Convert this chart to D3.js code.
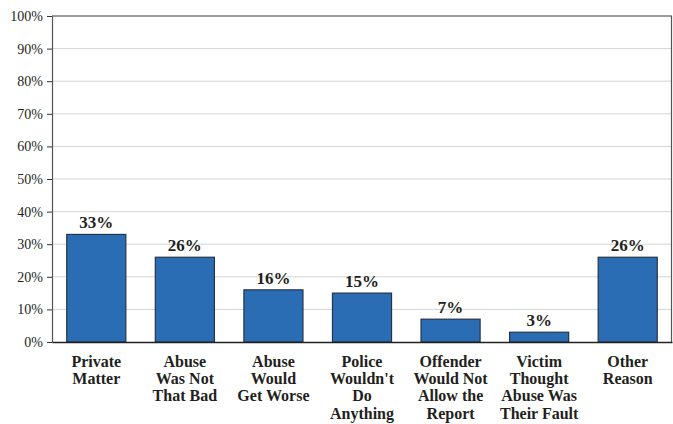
<!DOCTYPE html>
<html><head><meta charset="utf-8">
<script src="https://cdn.jsdelivr.net/npm/d3@7"></script>
<style>body{margin:0;background:#fff;}svg{display:block;}</style>
</head><body>
<svg id="c" width="673" height="424"></svg>
<script>
const categories = [
  ["Private","Matter"],
  ["Abuse","Was Not","That Bad"],
  ["Abuse","Would","Get Worse"],
  ["Police","Wouldn't","Do","Anything"],
  ["Offender","Would Not","Allow the","Report"],
  ["Victim","Thought","Abuse Was","Their Fault"],
  ["Other","Reason"]
];
const values = [33, 26, 16, 15, 7, 3, 26];
const yTicks = [0,10,20,30,40,50,60,70,80,90,100];

const svg = d3.select("#c");
const m = {l:52, t:16, r:1, b:82};
const W = 673, H = 424;
const x = d3.scaleBand().domain(d3.range(values.length)).range([m.l, W - m.r]).paddingInner(0.333).paddingOuter(0.1665);
const y = d3.scaleLinear().domain([0,100]).range([H - m.b, m.t]);
const serif = "'Liberation Serif','Times New Roman',serif";
const ink = "#231f20";

// gridlines
svg.append("g").selectAll("line").data(yTicks.filter(d=>d>0 && d<100)).join("line")
  .attr("x1", m.l).attr("x2", W - m.r).attr("y1", d=>y(d)).attr("y2", d=>y(d))
  .attr("stroke", "#d4d4d4").attr("stroke-width", 1);

// frame top & right
svg.append("line").attr("x1", m.l).attr("x2", W - m.r).attr("y1", y(100)).attr("y2", y(100)).attr("stroke", "#3a3a3a").attr("stroke-width", 1.2);
svg.append("line").attr("x1", W - m.r - 0.5).attr("x2", W - m.r - 0.5).attr("y1", y(100)).attr("y2", y(0)).attr("stroke", "#555").attr("stroke-width", 1.2);

// bars
svg.append("g").selectAll("rect").data(values).join("rect")
  .attr("x", (d,i)=>x(i)).attr("width", x.bandwidth())
  .attr("y", d=>y(d)).attr("height", d=>y(0)-y(d))
  .attr("fill", "#2a6db5").attr("stroke", "#263445").attr("stroke-width", 1.2);

// value labels
svg.append("g").selectAll("text").data(values).join("text")
  .attr("x", (d,i)=>x(i)+x.bandwidth()/2).attr("y", d=>y(d)-6)
  .attr("text-anchor","middle").attr("font-family", serif).attr("font-weight","bold")
  .attr("font-size", 17).attr("fill", ink).text(d=>d+"%");

// y axis
const yAxis = d3.axisLeft(y).tickValues(yTicks).tickFormat(d=>d+"%").tickSize(5).tickSizeOuter(0);
const gy = svg.append("g").attr("transform", `translate(${m.l},0)`).call(yAxis);
gy.select(".domain").attr("stroke", "#555").attr("stroke-width", 1.2);
gy.selectAll(".tick line").attr("stroke", "#333");
gy.selectAll(".tick text").attr("font-family", serif).attr("font-size", 14).attr("fill", ink).attr("x", -9);

// x axis
const xAxis = d3.axisBottom(x).tickSize(0).tickSizeOuter(0).tickFormat("");
const gx = svg.append("g").attr("transform", `translate(0,${y(0)})`).call(xAxis);
gx.select(".domain").attr("stroke", "#222").attr("stroke-width", 1.5);

// category labels
const lab = svg.append("g").selectAll("text").data(categories).join("text")
  .attr("text-anchor","middle").attr("font-family", serif).attr("font-weight","bold")
  .attr("font-size", 16).attr("fill", ink)
  .attr("transform", (d,i)=>`translate(${x(i)+x.bandwidth()/2},${y(0)+25})`);
lab.selectAll("tspan").data(d=>d).join("tspan")
  .attr("x", 0).attr("y", (d,j)=>j*17.2).text(d=>d);
</script>
</body></html>
